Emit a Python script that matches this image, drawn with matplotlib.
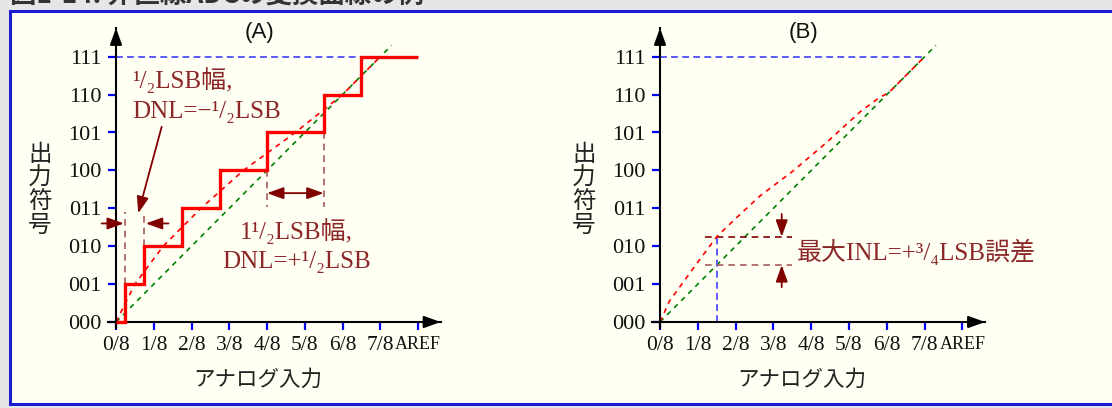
import matplotlib
matplotlib.use("Agg")
import matplotlib.pyplot as plt
from matplotlib.patches import Rectangle
from matplotlib.transforms import Affine2D

W, H, DPI = 1112, 408, 100

# ---- data -------------------------------------------------------------
x_tick_labels = ["0/8", "1/8", "2/8", "3/8", "4/8", "5/8", "6/8", "7/8", "AREF"]
y_tick_labels = ["000", "001", "010", "011", "100", "101", "110", "111"]

# (A) staircase: code transition edges in LSB and output codes
stair_edges = [0, 0.25, 0.75, 1.75, 2.75, 4.0, 5.5, 6.5, 8.0]
stair_codes = [0, 1, 2, 3, 4, 5, 6, 7]
# line through the centre of each code's tread
centre_x = [0, 0.5, 1.25, 2.25, 3.375, 4.75, 6.0, 7.0]
centre_y = [0, 1, 2, 3, 4, 5, 6, 7]

# ideal straight line (both panels)
ideal_x = [0, 7.3]
ideal_y = [0, 7.3]

# (B) bowed transfer curve
inl_x = [0, 0.25, 0.6, 1.0, 1.5, 2.0, 2.65, 3.5, 4.4, 5.3, 5.8, 6.05, 7.0]
inl_y = [0, 0.55, 1.03, 1.58, 2.25, 2.73, 3.33, 3.97, 4.73, 5.55, 5.92, 6.05, 7.0]
inl_at = 1.5        # input where the error is largest
inl_err = 0.75      # +3/4 LSB

# ---- style ------------------------------------------------------------
SERIF = ["Liberation Serif", "DejaVu Serif", "Noto Sans CJK JP"]
CJK = ["Noto Sans CJK JP", "DejaVu Sans"]
RED = "#ff0000"
GREEN = "#008000"
BLUE_D = "#5a5aff"
MAROON = "#800000"
TXT = "#8c2727"
ROSY = "#a65a5a"

plt.rcParams["font.family"] = SERIF

fig = plt.figure(figsize=(W / DPI, H / DPI), dpi=DPI, facecolor="#e6e6e6")
PX = Affine2D().scale(1 / W, -1 / H).translate(0, 1) + fig.transFigure

# framed panel background
fig.patches.append(Rectangle((9.5, 11), W + 20, 393, transform=PX,
                             facecolor="#fffff4", edgecolor="#1c1cd0",
                             lw=2.2, zorder=-5))
fig.text(10, 4, "図1-14: 非直線ADCの変換曲線の例", transform=PX,
         family=CJK, fontsize=19, fontweight="bold", color="#333333",
         va="baseline", ha="left", zorder=-4)

XLIM = (-0.21, 8.6)
YLIM = (-0.16, 7.76)


def arrow(ax, start, end, color=MAROON, lw=1.3, style="-|>"):
    ax.annotate("", xy=end, xytext=start, annotation_clip=False,
                arrowprops=dict(arrowstyle=f"{style},head_length=0.5,head_width=0.18",
                                color=color, lw=lw, shrinkA=0, shrinkB=0,
                                mutation_scale=20))


def make_panel(x0, ux, y0, uy, title):
    left = (x0 + XLIM[0] * ux) / W
    width = (XLIM[1] - XLIM[0]) * ux / W
    bottom = (H - (y0 - YLIM[0] * uy)) / H
    height = (YLIM[1] - YLIM[0]) * uy / H
    ax = fig.add_axes([left, bottom, width, height])
    ax.set_zorder(1)
    ax.set_xlim(XLIM)
    ax.set_ylim(YLIM)
    ax.patch.set_visible(False)
    for s in ("top", "right"):
        ax.spines[s].set_visible(False)
    for s in ("left", "bottom"):
        ax.spines[s].set_position(("data", 0))
        ax.spines[s].set_linewidth(1.5)
    ax.set_xticks(range(9))
    ax.set_xticklabels(x_tick_labels, fontsize=15.5, family=SERIF)
    ax.get_xticklabels()[-1].set_fontsize(13)
    ax.set_yticks(range(8))
    ax.set_yticklabels(y_tick_labels, fontsize=16, family=SERIF)
    ax.tick_params(axis="both", direction="out", length=5.5, width=1.6,
                   color="#0000ff", labelcolor="#111111")
    ax.tick_params(axis="x", pad=4.5)
    ax.tick_params(axis="y", pad=5)
    ax.xaxis.get_major_ticks()[0].tick1line.set_color("k")
    ax.yaxis.get_major_ticks()[0].tick1line.set_color("k")
    # axis arrow heads
    arrow(ax, (8.2, 0), (XLIM[1], 0), color="k", lw=1.5)
    arrow(ax, (0, 7.4), (0, YLIM[1]), color="k", lw=1.5)
    ax.set_xlabel("アナログ入力", family=CJK, fontsize=15.5, color="#222222")
    ax.xaxis.set_label_coords(x0 + 3.75 * ux, 369, transform=PX)
    ax.set_ylabel("出\n力\n符\n号", family=CJK, fontsize=17, rotation=0,
                  linespacing=1.05, color="#222222", va="center", ha="center")
    ax.yaxis.set_label_coords(x0 - 76, 190, transform=PX)
    ax.text(3.79, 7.63, title, family=["Liberation Sans"], fontsize=16,
            ha="center", va="center", color="#111111")
    return ax


# ---- panel A ----------------------------------------------------------
axA = make_panel(116, 37.75, 322, 37.9, "(A)")
axA.plot([0, stair_edges[-2]], [7, 7], color=BLUE_D, lw=1.4,
         linestyle=(0, (3.5, 2.2)), zorder=2)
axA.plot(ideal_x, ideal_y, color=GREEN, lw=1.2, linestyle=(0, (3, 3)), zorder=2)
axA.plot(centre_x, centre_y, color=RED, lw=1.2, linestyle=(0, (3, 3)), zorder=2)
axA.stairs(stair_codes, stair_edges, baseline=None, color=RED, lw=2.4, zorder=3)

# narrow code (code 1) markers
e1, e2 = stair_edges[1], stair_edges[2]
axA.plot([e1, e1], [1, 2.9], color=ROSY, lw=1.2, linestyle=(0, (4, 3)))
axA.plot([e2, e2], [2, 2.9], color=ROSY, lw=1.2, linestyle=(0, (4, 3)))
arrow(axA, (-0.38, 2.6), (e1 - 0.04, 2.6))
arrow(axA, (1.39, 2.6), (e2 + 0.04, 2.6))
arrow(axA, (1.21, 5.15), (0.59, 2.87))
axA.text(0.42, 6.39, "¹/₂LSB幅,", fontsize=18, color=TXT, ha="left", va="center")
axA.text(0.42, 5.55, "DNL=−¹/₂LSB", fontsize=18, color=TXT, ha="left", va="center")

# wide code (code 5) markers
e5, e6 = stair_edges[5], stair_edges[6]
axA.plot([e5, e5], [4, 3.03], color=ROSY, lw=1.2, linestyle=(0, (4, 3)))
axA.plot([e6, e6], [5, 3.03], color=ROSY, lw=1.2, linestyle=(0, (4, 3)))
arrow(axA, (e5, 3.4), (e6, 3.4), style="<|-|>")
axA.text(4.79, 2.40, "1¹/₂LSB幅,", fontsize=18, color=TXT, ha="center", va="center")
axA.text(4.79, 1.58, "DNL=+¹/₂LSB", fontsize=18, color=TXT, ha="center", va="center")

# ---- panel B ----------------------------------------------------------
axB = make_panel(660, 37.8, 322, 37.9, "(B)")
axB.plot([0, 7.0], [7, 7], color=BLUE_D, lw=1.4, linestyle=(0, (3.5, 2.2)), zorder=2)
axB.plot(ideal_x, ideal_y, color=GREEN, lw=1.2, linestyle=(0, (3, 3)), zorder=2)
axB.plot(inl_x, inl_y, color=RED, lw=1.2, linestyle=(0, (3, 3)), zorder=2.2)

top = inl_at + inl_err
axB.plot([inl_at, inl_at], [0, top], color=BLUE_D, lw=1.4,
         linestyle=(0, (3.5, 2.2)), zorder=2)
axB.plot([1.19, 3.48], [top, top], color=MAROON, lw=1.2, linestyle=(0, (4, 3)))
axB.plot([1.19, 3.48], [inl_at, inl_at], color=ROSY, lw=1.2, linestyle=(0, (4, 3)))
arrow(axB, (3.22, 2.85), (3.22, top))
arrow(axB, (3.22, 0.92), (3.22, inl_at))
axB.text(3.62, 1.84, "最大INL=+³/₄LSB誤差", fontsize=18, color=TXT,
         ha="left", va="center")

fig.savefig("out.png", dpi=DPI, facecolor=fig.get_facecolor())
